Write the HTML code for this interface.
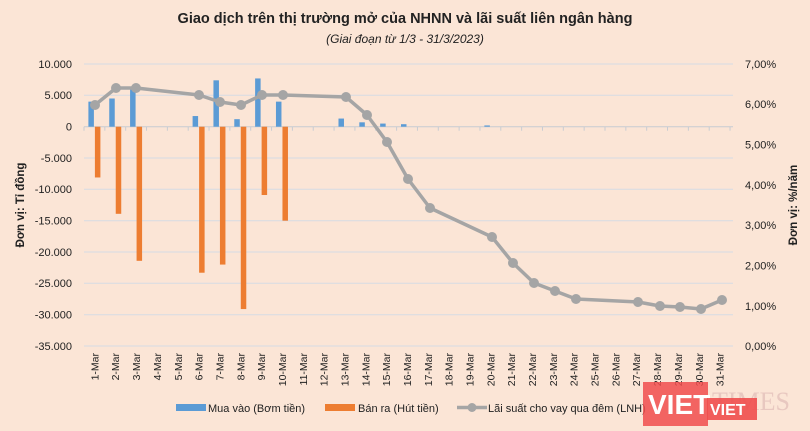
<!DOCTYPE html>
<html><head><meta charset="utf-8"><style>
body{margin:0;width:810px;height:426px;overflow:hidden;background:#fbe5d6;font-family:"Liberation Sans",sans-serif;}
</style></head><body>
<svg width="810" height="426" xmlns="http://www.w3.org/2000/svg" font-family="Liberation Sans, sans-serif">
<rect width="810" height="426" fill="#fbe5d6"/>
<text x="405" y="23" text-anchor="middle" font-size="14.5" font-weight="bold" fill="#222">Giao dịch trên thị trường mở của NHNN và lãi suất liên ngân hàng</text>
<text x="405" y="43" text-anchor="middle" font-size="12" font-style="italic" fill="#222">(Giai đoạn từ 1/3 - 31/3/2023)</text>
<g stroke="#d6dce4" stroke-width="1">
<line x1="84" x2="733" y1="64" y2="64"/><line x1="84" x2="733" y1="95.3" y2="95.3"/>
<line x1="84" x2="733" y1="158" y2="158"/><line x1="84" x2="733" y1="189.3" y2="189.3"/>
<line x1="84" x2="733" y1="220.7" y2="220.7"/><line x1="84" x2="733" y1="252" y2="252"/>
<line x1="84" x2="733" y1="283.3" y2="283.3"/><line x1="84" x2="733" y1="314.7" y2="314.7"/>
<line x1="84" x2="733" y1="346" y2="346"/>
</g>
<line x1="84" x2="733" y1="126.7" y2="126.7" stroke="#c8ccd2"/>
<g id="ticks" stroke="#c8ccd2"></g>
<g font-size="11" fill="#222" text-anchor="end">
<text x="72" y="68">10.000</text><text x="72" y="99">5.000</text><text x="72" y="130.5">0</text>
<text x="72" y="162">-5.000</text><text x="72" y="193">-10.000</text><text x="72" y="224.5">-15.000</text>
<text x="72" y="256">-20.000</text><text x="72" y="287">-25.000</text><text x="72" y="318.5">-30.000</text><text x="72" y="350">-35.000</text>
</g>
<g font-size="11" fill="#222">
<text x="745" y="68">7,00%</text><text x="745" y="108">6,00%</text><text x="745" y="148.5">5,00%</text>
<text x="745" y="189">4,00%</text><text x="745" y="229">3,00%</text><text x="745" y="269.5">2,00%</text>
<text x="745" y="310">1,00%</text><text x="745" y="350">0,00%</text>
</g>
<text transform="translate(24,205) rotate(-90)" text-anchor="middle" font-size="11.5" font-weight="bold" fill="#222">Đơn vị: Tỉ đồng</text>
<text transform="translate(797,205) rotate(-90)" text-anchor="middle" font-size="11.5" font-weight="bold" fill="#222">Đơn vị: %/năm</text>
<g id="bars"></g>
<polyline fill="none" stroke="#a5a5a5" stroke-width="3.5" stroke-linejoin="round" points="95,105 116,88 136,88 199,95 220,102 241,105 262,95 283,95 346,97 367,115 387,142 408,179 430,208 492,237 513,263 534,283 555,291 576,299 638,302 660,306 680,307 701,309 722,300"/>
<g fill="#a5a5a5">
<circle cx="95" cy="105" r="5"/><circle cx="116" cy="88" r="5"/><circle cx="136" cy="88" r="5"/><circle cx="199" cy="95" r="5"/><circle cx="220" cy="102" r="5"/><circle cx="241" cy="105" r="5"/><circle cx="262" cy="95" r="5"/><circle cx="283" cy="95" r="5"/><circle cx="346" cy="97" r="5"/><circle cx="367" cy="115" r="5"/><circle cx="387" cy="142" r="5"/><circle cx="408" cy="179" r="5"/><circle cx="430" cy="208" r="5"/><circle cx="492" cy="237" r="5"/><circle cx="513" cy="263" r="5"/><circle cx="534" cy="283" r="5"/><circle cx="555" cy="291" r="5"/><circle cx="576" cy="299" r="5"/><circle cx="638" cy="302" r="5"/><circle cx="660" cy="306" r="5"/><circle cx="680" cy="307" r="5"/><circle cx="701" cy="309" r="5"/><circle cx="722" cy="300" r="5"/>
</g>
<g id="xl" font-size="10.5" fill="#222"></g>
<rect x="176" y="404" width="30" height="7" fill="#5b9bd5"/>
<text x="208" y="412" font-size="11" fill="#222">Mua vào (Bơm tiền)</text>
<rect x="325" y="404" width="30" height="7" fill="#ed7d31"/>
<text x="358" y="412" font-size="11" fill="#222">Bán ra (Hút tiền)</text>
<line x1="457" x2="487" y1="407.5" y2="407.5" stroke="#a5a5a5" stroke-width="3.5"/><circle cx="472" cy="407.5" r="4.5" fill="#a5a5a5"/>
<text x="488" y="412" font-size="11" fill="#222">Lãi suất cho vay qua đêm (LNH)</text>
<rect x="643" y="382" width="65" height="44" fill="#f04e4e" opacity="0.85"/>
<text x="648" y="414" font-size="28" font-weight="bold" fill="#fff">VIET</text>
<text x="712" y="410" font-size="26" fill="#e8c8c0" font-family="Liberation Serif, serif">TIMES</text>
<rect x="707" y="398" width="50" height="22" fill="#f04e4e" opacity="0.9"/>
<text x="710" y="415" font-size="16" font-weight="bold" fill="#fff">VIET</text>
</svg>
<script>
const ns="http://www.w3.org/2000/svg";
const c=i=>94.4+20.84*i, y0=126.7, k=6.267/1000;
const blue={1:4000,2:4500,3:6000,6:1700,7:7400,8:1200,9:7700,10:4000,13:1300,14:700,15:500,16:400,20:200};
const orange={1:-8100,2:-13900,3:-21400,6:-23300,7:-22000,8:-29100,9:-10900,10:-15000};
const b=document.getElementById('bars'),t=document.getElementById('ticks'),xl=document.getElementById('xl');
function r(x,y,w,h,f){const e=document.createElementNS(ns,'rect');e.setAttribute('x',x);e.setAttribute('y',y);e.setAttribute('width',w);e.setAttribute('height',h);e.setAttribute('fill',f);b.appendChild(e);}
for(const d in blue){const v=blue[d];r(c(d-1)-6,y0-v*k,5.5,v*k,'#5b9bd5');}
for(const d in orange){const v=-orange[d];r(c(d-1)+0.5,y0,5.5,v*k,'#ed7d31');}
for(let i=0;i<=31;i++){const x=84+20.84*i;const l=document.createElementNS(ns,'line');l.setAttribute('x1',x);l.setAttribute('x2',x);l.setAttribute('y1',y0);l.setAttribute('y2',y0+4);t.appendChild(l);}
for(let i=1;i<=31;i++){const e=document.createElementNS(ns,'text');const x=c(i-1)+4;e.setAttribute('transform',`translate(${x},353) rotate(-90)`);e.setAttribute('text-anchor','end');e.textContent=i+'-Mar';xl.appendChild(e);}
</script>
</body></html>
